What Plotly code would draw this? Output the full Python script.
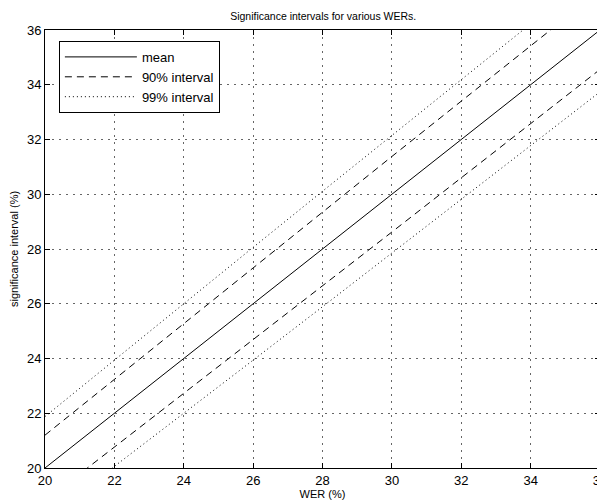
import plotly.graph_objects as go

wer = [20, 22, 24, 26, 28, 30, 32, 34, 36]
mean = [20, 22, 24, 26, 28, 30, 32, 34, 36]
upper90 = [21.20, 23.24, 25.28, 27.32, 29.35, 31.38, 33.40, 35.42, 37.44]
lower90 = [18.80, 20.76, 22.72, 24.68, 26.65, 28.62, 30.60, 32.58, 34.56]
upper99 = [21.88, 23.95, 26.01, 28.06, 30.11, 32.16, 34.19, 36.23, 38.26]
lower99 = [18.12, 20.05, 21.99, 23.94, 25.89, 27.85, 29.81, 31.77, 33.74]
ticks = [20, 22, 24, 26, 28, 30, 32, 34, 36]

FONT = "Liberation Sans, Arial, Helvetica, sans-serif"
DASH = "7px,5px"
DOT = "1px,3px"
fig = go.Figure()
fig.add_trace(go.Scatter(x=wer, y=mean, mode="lines", name="mean",
                         line=dict(color="black", width=1)))
fig.add_trace(go.Scatter(x=wer, y=upper90, mode="lines", name="90% interval",
                         line=dict(color="black", width=1, dash=DASH)))
fig.add_trace(go.Scatter(x=wer, y=lower90, mode="lines", name="90% interval",
                         showlegend=False,
                         line=dict(color="black", width=1, dash=DASH)))
fig.add_trace(go.Scatter(x=wer, y=upper99, mode="lines", name="99% interval",
                         line=dict(color="black", width=1, dash=DOT)))
fig.add_trace(go.Scatter(x=wer, y=lower99, mode="lines", name="99% interval",
                         showlegend=False,
                         line=dict(color="black", width=1, dash=DOT)))

axis_common = dict(
    showline=True, linecolor="black", linewidth=1, mirror="ticks",
    ticks="inside", ticklen=5, tickcolor="black", tickwidth=1,
    showgrid=True, gridcolor="#666", gridwidth=1, griddash="2px,5px",
    zeroline=False, tickfont=dict(size=13, color="black", family=FONT),
    tickvals=ticks, ticktext=[str(t) for t in ticks], automargin=False,
    ticklabeloverflow="allow",
)
fig.update_xaxes(range=[20, 36],
                 title=dict(text="WER (%)", font=dict(size=11, family=FONT, color="black"), standoff=0),
                 **axis_common)
fig.update_yaxes(range=[20, 36],
                 title=dict(text="significance interval (%)", font=dict(size=11, family=FONT, color="black"), standoff=8),
                 **axis_common)

fig.update_layout(
    width=597, height=496,
    margin=dict(l=37, r=5, t=22, b=36, autoexpand=False),
    paper_bgcolor="white", plot_bgcolor="white",
    title=dict(text="Significance intervals for various WERs.", x=0.528, xanchor="center",
               y=0.984, yanchor="middle", font=dict(size=10.5, family=FONT, color="black")),
    font=dict(family=FONT, color="black"),
    showlegend=True,
    legend=dict(x=0.025, y=0.975, xanchor="left", yanchor="top",
                bordercolor="black", borderwidth=1, bgcolor="white",
                font=dict(size=13, family=FONT, color="black"),
                itemwidth=72, tracegroupgap=0),
)

fig.write_html("out.html")
